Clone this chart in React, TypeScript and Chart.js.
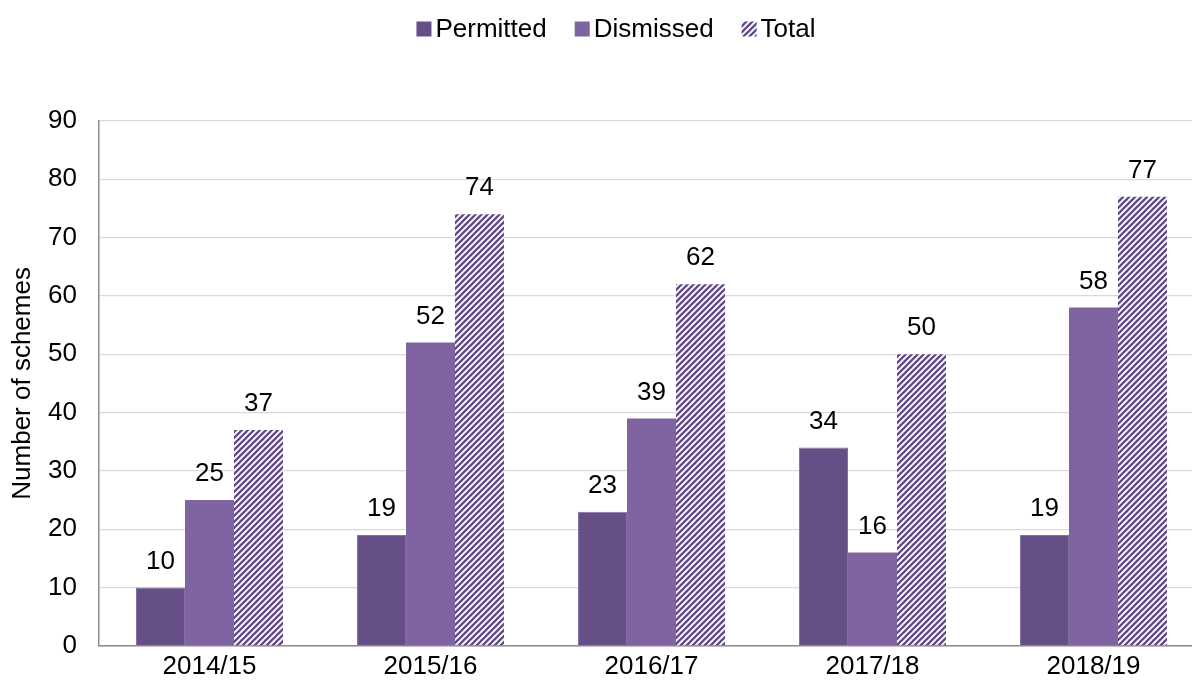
import React, { useEffect, useRef } from "react";
import { Chart, registerables } from "chart.js";

Chart.register(...registerables);

const categories = ["2014/15", "2015/16", "2016/17", "2017/18", "2018/19"];
const permitted = [10, 19, 23, 34, 19];
const dismissed = [25, 52, 39, 16, 58];
const total = [37, 74, 62, 50, 77];
const yTicks = [0, 10, 20, 30, 40, 50, 60, 70, 80, 90];

const FONT = "Arial, 'Liberation Sans', sans-serif";
const FS = 26;

function makeHatch(): CanvasPattern | string {
  const s = 6;
  const c = document.createElement("canvas");
  c.width = s;
  c.height = s;
  const ctx = c.getContext("2d");
  if (!ctx) return "#634a86";
  ctx.fillStyle = "#ffffff";
  ctx.fillRect(0, 0, s, s);
  ctx.strokeStyle = "#634a86";
  ctx.lineWidth = 2.3;
  ctx.beginPath();
  ctx.moveTo(-1, s + 1);
  ctx.lineTo(s + 1, -1);
  ctx.moveTo(-2, 2);
  ctx.lineTo(2, -2);
  ctx.moveTo(s - 2, s + 2);
  ctx.lineTo(s + 2, s - 2);
  ctx.stroke();
  const p = ctx.createPattern(c, "repeat");
  return p || "#634a86";
}

const valueLabels = {
  id: "valueLabels",
  afterDatasetsDraw(chart: any) {
    const ctx = chart.ctx;
    ctx.save();
    ctx.font = `${FS}px ${FONT}`;
    ctx.fillStyle = "#000";
    ctx.textAlign = "center";
    ctx.textBaseline = "middle";
    chart.data.datasets.forEach((ds: any, i: number) => {
      const meta = chart.getDatasetMeta(i);
      meta.data.forEach((bar: any, j: number) => {
        ctx.fillText(String(ds.data[j]), bar.x, bar.y - 26);
      });
    });
    ctx.restore();
  },
};

// Custom legend: small square swatch close to its text, items centred near top
const customLegend = {
  id: "customLegend",
  afterDraw(chart: any) {
    const ctx = chart.ctx;
    const box = 15;
    const gap = 4;
    const spacing = 28;
    const centerX = 616;
    const cy = 29;
    ctx.save();
    ctx.font = `${FS}px ${FONT}`;
    ctx.textBaseline = "middle";
    ctx.textAlign = "left";
    const items = chart.data.datasets.map((ds: any) => ({
      label: ds.label,
      color: ds.backgroundColor,
      w: ctx.measureText(ds.label).width,
    }));
    const totalW =
      items.reduce((a: number, it: any) => a + box + gap + it.w, 0) +
      spacing * (items.length - 1);
    let x = centerX - totalW / 2;
    items.forEach((it: any) => {
      ctx.fillStyle = it.color;
      ctx.fillRect(x, cy - box / 2, box, box);
      ctx.fillStyle = "#000";
      ctx.fillText(it.label, x + box + gap, cy + 1);
      x += box + gap + it.w + spacing;
    });
    ctx.restore();
  },
};

export default function App() {
  const ref = useRef<HTMLCanvasElement>(null);
  useEffect(() => {
    document.body.style.margin = "0";
    if (!ref.current) return;
    const hatch = makeHatch();
    const chart = new Chart(ref.current, {
      type: "bar",
      data: {
        labels: categories,
        datasets: [
          {
            label: "Permitted",
            data: permitted,
            backgroundColor: "#664f86",
            borderColor: "#8470a2",
            borderWidth: 1,
          },
          {
            label: "Dismissed",
            data: dismissed,
            backgroundColor: "#8064a2",
            borderWidth: 0,
          },
          {
            label: "Total",
            data: total,
            backgroundColor: hatch as any,
            borderWidth: 0,
          },
        ],
      },
      options: {
        responsive: false,
        animation: false,
        devicePixelRatio: 1,
        layout: { padding: { top: 121, right: 38, bottom: 0, left: 0 } },
        datasets: {
          bar: { categoryPercentage: 0.665, barPercentage: 1 },
        },
        plugins: {
          tooltip: { enabled: false },
          legend: { display: false },
        },
        scales: {
          x: {
            grid: { display: false, drawTicks: false },
            border: { display: true, color: "#8c8c8c", width: 1.5 },
            ticks: {
              font: { size: FS, family: FONT },
              color: "#000",
              padding: 5,
            },
          },
          y: {
            min: 0,
            max: 90,
            afterFit(scale: any) {
              scale.width = 99;
            },
            afterBuildTicks(scale: any) {
              scale.ticks = yTicks.map((v) => ({ value: v }));
            },
            grid: { color: "#d9d9d9", drawTicks: false, lineWidth: 1.2 },
            border: { display: true, color: "#8c8c8c", width: 1.5 },
            ticks: {
              font: { size: FS, family: FONT },
              color: "#000",
              padding: 22,
            },
            title: {
              display: true,
              text: "Number of schemes",
              font: { size: FS, family: FONT },
              color: "#000",
              padding: { top: 7, bottom: 0 },
            },
          },
        },
      },
      plugins: [valueLabels, customLegend],
    });
    return () => chart.destroy();
  }, []);
  return (
    <div style={{ width: 1192, height: 687, overflow: "hidden" }}>
      <canvas ref={ref} width={1242} height={687} />
    </div>
  );
}
